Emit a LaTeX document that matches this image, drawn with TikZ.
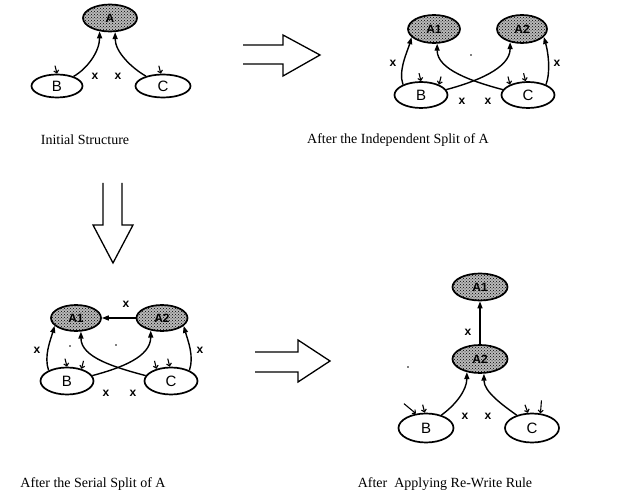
\documentclass[tikz,border=0pt]{standalone}
\usepackage{fontspec}
\setmainfont{Liberation Serif}
\setsansfont{Liberation Sans}
\usetikzlibrary{shapes.geometric,arrows.meta,patterns}
\begin{document}
\begin{tikzpicture}[x=1pt,y=-1pt,
  plain/.style={ellipse,draw,line width=1.7pt,inner sep=0pt,
    minimum width=53pt,minimum height=25pt,
    font=\sffamily\fontsize{15}{15}\selectfont},
  shaded/.style={plain,preaction={fill=gray!55},pattern=crosshatch dots,
    font=\sffamily\bfseries\fontsize{12}{12}\selectfont},
  edge/.style={line width=1.4pt,-{Triangle[length=7pt,width=5pt]}},
  stub/.style={line width=1.1pt,{Straight Barb[length=2.5pt,width=5pt]}-},
  lab/.style={font=\sffamily\bfseries\fontsize{12}{12}\selectfont,inner sep=0pt},
  caption/.style={font=\fontsize{14}{14}\selectfont,inner sep=0pt},
  bigarrow/.style={line width=1.3pt,line join=miter},
  speck/.style={fill=black}
]
\useasboundingbox (0,0) rectangle (621,502);

% ---------- Initial structure ----------
\node[shaded,minimum width=54pt,minimum height=27pt] (A) at (110,18) {A};
\node[plain,minimum width=51pt,minimum height=23pt] (B1) at (57,86) {B};
\node[plain,minimum width=55pt,minimum height=23pt] (C1) at (163,86) {C};
\draw[edge] (B1.30) .. controls +(14,-8) and +(0,20) .. (A.232);
\draw[edge] (C1.150) .. controls +(-14,-8) and +(0,20) .. (A.290);
\node[lab] (x1a) at (95,76) {x};
\node[lab] (x1b) at (118,76) {x};
\draw[stub] (B1.north) -- +(-2,-8);
\draw[stub] (C1.100) -- +(-2,-8);
\node[caption] (cap1) at (85,140) {Initial Structure};

% ---------- arrow to the independent split ----------
\draw[bigarrow] (243,45) -- (283,45) -- (283,35) -- (320,55) -- (283,76) -- (283,64) -- (243,64);

% ---------- After the independent split ----------
\node[shaded,minimum width=52pt,minimum height=28pt] (A12) at (434,29) {A1};
\node[shaded,minimum width=50pt,minimum height=28pt] (A22) at (522,29) {A2};
\node[plain,minimum width=53pt,minimum height=26pt] (B2) at (421,95) {B};
\node[plain,minimum width=53pt,minimum height=26pt] (C2) at (528,95) {C};
\draw[edge] (B2.150) .. controls +(-5,-14) and +(-4,14) .. (A12.200);
\draw[edge] (C2.30) .. controls +(5,-14) and +(4,14) .. (A22.-20);
\draw[edge] (B2.12) .. controls +(30,-8) and +(0,26) .. (A22.228);
\draw[edge] (C2.168) .. controls +(-30,-8) and +(0,26) .. (A12.282);
\node[lab] (x2a) at (393,63) {x};
\node[lab] (x2b) at (557,63) {x};
\node[lab] (x2c) at (462,101) {x};
\node[lab] (x2d) at (488,101) {x};
\draw[stub] (B2.north) -- +(-2,-8);
\draw[stub] (B2.30) -- +(2,-8);
\draw[stub] (C2.150) -- +(-2,-8);
\draw[stub] (C2.100) -- +(-2,-8);
\fill[speck] (471,55) circle (0.9pt);
\node[caption] (cap2) at (398,140) {After the Independent Split of A};

% ---------- arrow to the serial split ----------
\draw[bigarrow] (103,183) -- (103,225) -- (93,225) -- (113,263) -- (133,225) -- (122,225) -- (122,183);

% ---------- After the serial split ----------
\node[shaded,minimum width=50pt,minimum height=26pt] (A13) at (76,318) {A1};
\node[shaded,minimum width=51pt,minimum height=26pt] (A23) at (162,318) {A2};
\node[plain,minimum width=53pt,minimum height=27pt] (B3) at (67,381) {B};
\node[plain,minimum width=53pt,minimum height=27pt] (C3) at (171,381) {C};
\draw[edge] (A23.west) -- (A13.east);
\draw[edge] (B3.150) .. controls +(-5,-14) and +(-4,14) .. (A13.200);
\draw[edge] (C3.30) .. controls +(5,-14) and +(4,14) .. (A23.-20);
\draw[edge] (B3.12) .. controls +(30,-8) and +(0,26) .. (A23.228);
\draw[edge] (C3.168) .. controls +(-30,-8) and +(0,26) .. (A13.290);
\node[lab] (x3a) at (126,304) {x};
\node[lab] (x3b) at (37,350) {x};
\node[lab] (x3c) at (200,350) {x};
\node[lab] (x3d) at (106,393) {x};
\node[lab] (x3e) at (133,393) {x};
\draw[stub] (B3.north) -- +(-2,-8);
\draw[stub] (B3.40) -- +(2,-8);
\draw[stub] (C3.140) -- +(-2,-8);
\draw[stub] (C3.95) -- +(-2,-8);
\fill[speck] (70,346) circle (0.8pt);
\fill[speck] (116,345) circle (0.8pt);
\node[caption] (cap3) at (93,484) {After the Serial Split of A};

% ---------- arrow to the rewritten structure ----------
\draw[bigarrow] (255,352) -- (298,352) -- (298,340) -- (330,361) -- (298,382) -- (298,372) -- (255,372);

% ---------- After applying the rewrite rule ----------
\node[shaded,minimum width=55pt,minimum height=27pt] (A1t) at (480,287) {A1};
\node[shaded,minimum width=55pt,minimum height=28pt] (A2d) at (480,359) {A2};
\node[plain,minimum width=55pt,minimum height=29pt] (Bd) at (426,428) {B};
\node[plain,minimum width=54pt,minimum height=29pt] (Cd) at (532,428) {C};
\draw[edge] (A2d.north) -- (A1t.south);
\draw[edge] (Bd.40) .. controls +(14,-10) and +(0,18) .. (A2d.225);
\draw[edge] (Cd.140) .. controls +(-14,-10) and +(0,18) .. (A2d.285);
\node[lab] (x4a) at (468,332) {x};
\node[lab] (x4b) at (465,416) {x};
\node[lab] (x4c) at (488,416) {x};
\draw[stub] (Bd.95) -- +(-2,-8);
\draw[stub] (Bd.125) -- +(-12,-10);
\draw[stub] (Cd.105) -- +(-3,-8);
\draw[stub] (Cd.60) -- +(1,-13);
\fill[speck] (408,367) circle (0.9pt);
\node[caption] (cap4) at (445,484) {After\ \ Applying Re-Write Rule};
\end{tikzpicture}
\end{document}
